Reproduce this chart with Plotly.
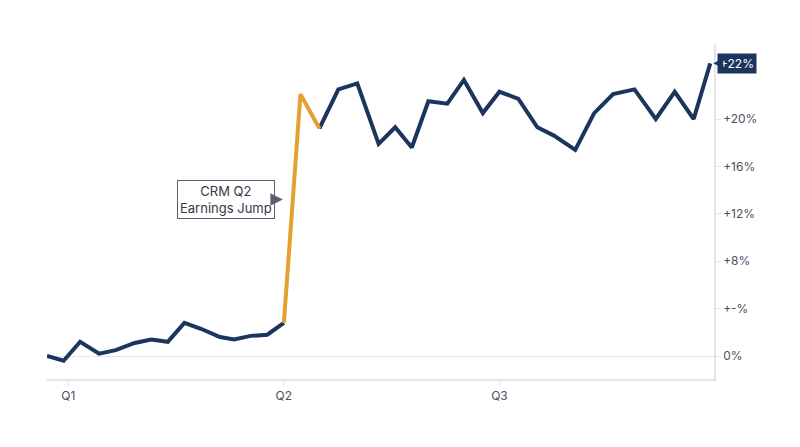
from plotly import graph_objects as go

# weekly-ish observation dates and cumulative change (%)
dates = [
    "2023-12-23", "2023-12-30", "2024-01-06", "2024-01-14", "2024-01-21",
    "2024-01-29", "2024-02-05", "2024-02-12", "2024-02-19", "2024-02-26",
    "2024-03-05", "2024-03-11", "2024-03-18", "2024-03-25", "2024-04-01",
    "2024-04-08", "2024-04-16", "2024-04-24", "2024-05-02", "2024-05-11",
    "2024-05-18", "2024-05-25", "2024-06-01", "2024-06-09", "2024-06-16",
    "2024-06-24", "2024-07-01", "2024-07-09", "2024-07-17", "2024-07-24",
    "2024-08-02", "2024-08-10", "2024-08-18", "2024-08-27", "2024-09-05",
    "2024-09-13", "2024-09-21", "2024-09-28",
]
change = [
    0.0, -0.4, 1.2, 0.2, 0.5, 1.1, 1.4, 1.2, 2.8, 2.3,
    1.6, 1.4, 1.7, 1.8, 2.8, 22.1, 19.2, 22.5, 23.0, 17.9,
    19.3, 17.6, 21.5, 21.3, 23.3, 20.5, 22.3, 21.7, 19.3, 18.6,
    17.4, 20.5, 22.1, 22.5, 20.0, 22.3, 20.0, 24.7,
]
jump_idx = [14, 15, 16]  # earnings jump segment

quarter_dates = ["2024-01-01", "2024-04-01", "2024-07-01"]
quarter_labels = ["Q1", "Q2", "Q3"]
y_ticks = [0, 4, 8, 12, 16, 20]
y_labels = ["0%", "+-%", "+8%", "+12%", "+16%", "+20%"]
last_label = "+22%"

NAVY = "#1c355e"
ORANGE = "#e6a032"


def main() -> None:
    fig = go.Figure()

    base = [None if i == jump_idx[1] else v for i, v in enumerate(change)]
    fig.add_trace(
        go.Scatter(
            x=dates,
            y=base,
            mode="lines",
            line=dict(color=NAVY, width=4),
            connectgaps=False,
            showlegend=False,
        )
    )
    fig.add_trace(
        go.Scatter(
            x=[dates[i] for i in jump_idx],
            y=[change[i] for i in jump_idx],
            mode="lines",
            line=dict(color=ORANGE, width=4),
            showlegend=False,
        )
    )

    fig.update_layout(
        width=800,
        height=447,
        margin=dict(l=39, r=94, t=36, b=76),
        plot_bgcolor="white",
        paper_bgcolor="white",
        font=dict(family="Inter, Roboto, sans-serif", size=12, color="#4b5160"),
        xaxis=dict(
            range=["2023-12-23", "2024-09-29 14:00"],
            tickvals=quarter_dates,
            ticktext=quarter_labels,
            showgrid=False,
            zeroline=False,
            showline=True,
            linecolor="#e3e5e8",
            linewidth=1.5,
            ticks="outside",
            ticklen=5,
            tickcolor="#e3e5e8",
        ),
        yaxis=dict(
            side="right",
            range=[-1.94, 26.33],
            tickvals=y_ticks,
            ticktext=y_labels,
            showgrid=False,
            zeroline=True,
            zerolinecolor="#e3e5e8",
            zerolinewidth=1,
            showline=True,
            linecolor="#e3e5e8",
            linewidth=1.5,
            ticks="outside",
            ticklen=5,
            tickcolor="#e3e5e8",
        ),
    )

    fig.add_annotation(
        x=dates[-1],
        y=change[-1],
        text=last_label,
        showarrow=True,
        ax=27,
        ay=0,
        arrowhead=2,
        arrowsize=1.3,
        arrowwidth=1.5,
        arrowcolor=NAVY,
        standoff=3,
        bgcolor=NAVY,
        borderpad=2,
        font=dict(color="white", size=12),
    )

    fig.add_annotation(
        x=dates[jump_idx[0]],
        y=13.2,
        text="CRM Q2<br>Earnings Jump",
        showarrow=True,
        ax=-58,
        ay=0,
        arrowhead=2,
        arrowsize=2.5,
        arrowwidth=1,
        arrowcolor="#5a6070",
        standoff=1,
        bgcolor="white",
        bordercolor="#5a6070",
        borderwidth=1,
        borderpad=2,
        font=dict(color="#333a48", size=13),
    )

    fig.write_html("out.html")


if __name__ == "__main__":
    main()
